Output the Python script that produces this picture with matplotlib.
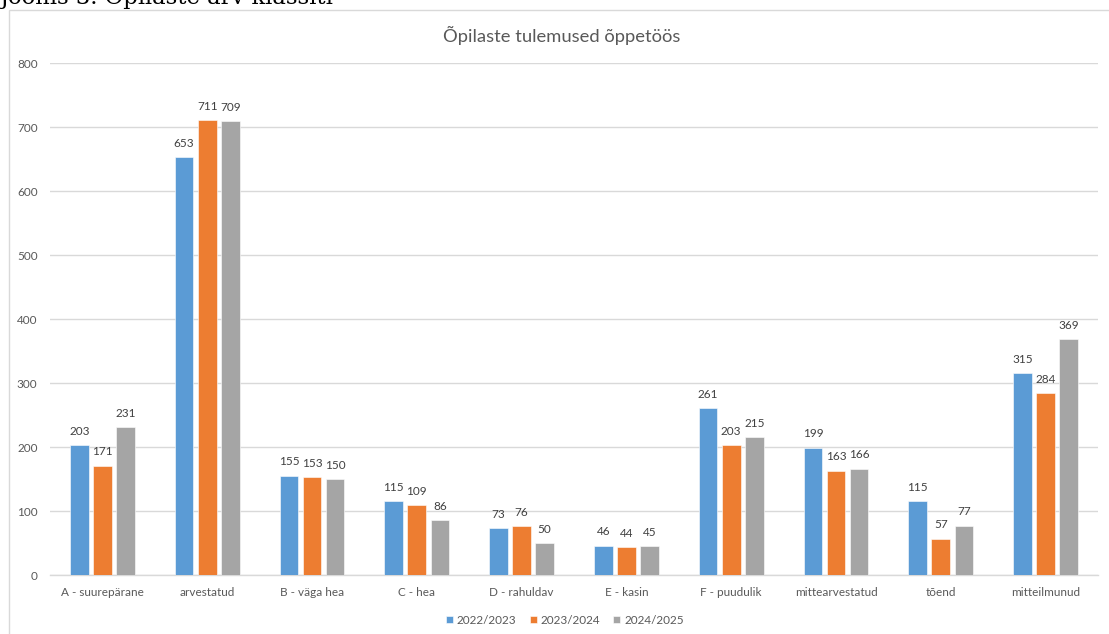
import matplotlib
matplotlib.use("Agg")
import matplotlib.pyplot as plt
from matplotlib.patches import Rectangle
import numpy as np

categories = ["A - suurepärane", "arvestatud", "B - väga hea", "C - hea", "D - rahuldav",
              "E - kasin", "F - puudulik", "mittearvestatud", "tõend", "mitteilmunud"]
series_names = ["2022/2023", "2023/2024", "2024/2025"]
v2022 = [203, 653, 155, 115, 73, 46, 261, 199, 115, 315]
v2023 = [171, 711, 153, 109, 76, 44, 203, 163, 57, 284]
v2024 = [231, 709, 150, 86, 50, 45, 215, 166, 77, 369]
yticks = [0, 100, 200, 300, 400, 500, 600, 700, 800]
title = "Õpilaste tulemused õppetöös"
heading = "Joonis 3. Õpilaste arv klassiti"

colors = ["#5B9BD5", "#ED7D31", "#A5A5A5"]
txt_color = "#595959"
grid_color = "#D9D9D9"
font = "Lato"

W, H = 1109, 634
fig = plt.figure(figsize=(W / 100, H / 100), dpi=100)
fig.patch.set_facecolor("white")

# chart frame
fig.patches.append(Rectangle((9 / W, -0.05), 1.2, (H - 10) / H + 0.05,
                             transform=fig.transFigure, fill=False,
                             edgecolor=grid_color, linewidth=1.0, zorder=0))
# cropped document heading above the chart (cut off in the reference too)
fig.text(0.0, (H - 4) / H, heading, family="DejaVu Serif", fontsize=16.3,
         color="black", va="baseline", ha="left")

ax = fig.add_axes([50 / W, 59 / H, 1048 / W, 512 / H])
x = np.arange(len(categories))
pitch = 0.22
width = 0.178
for i, (vals, name) in enumerate(zip([v2022, v2023, v2024], series_names)):
    bars = ax.bar(x + (i - 1) * pitch, vals, width=width, color=colors[i],
                  label=name, zorder=3, edgecolor="white", linewidth=0.4)
    for b, v in zip(bars, vals):
        ax.annotate(str(v), (b.get_x() + b.get_width() / 2, v), xytext=(0, 6),
                    textcoords="offset points", ha="center", va="bottom",
                    fontsize=8.5, color="#404040", family=font)

ax.set_xlim(-0.5, len(categories) - 0.5)
ax.set_ylim(0, 800)
ax.set_yticks(yticks)
ax.set_xticks(x)
ax.set_xticklabels(categories, fontsize=8.5, color=txt_color, family=font)
ax.set_yticklabels([str(t) for t in yticks], fontsize=8.5, color=txt_color, family=font)
ax.tick_params(axis="both", length=0)
ax.tick_params(axis="x", pad=9)
ax.tick_params(axis="y", pad=9)
for s in ["top", "right", "left"]:
    ax.spines[s].set_visible(False)
ax.spines["bottom"].set_color(grid_color)
ax.spines["bottom"].set_linewidth(1.0)
ax.yaxis.grid(True, color=grid_color, linewidth=1.0, zorder=0)
ax.set_axisbelow(True)

fig.text(562 / W, (H - 35) / H, title, ha="center", va="center",
         fontsize=13.2, color=txt_color, family=font)

leg = fig.legend(loc="center", bbox_to_anchor=(565 / W, (H - 620) / H), ncol=3,
                 frameon=False, handlelength=0.6, handleheight=0.6,
                 handletextpad=0.35, columnspacing=1.1,
                 prop={"family": font, "size": 8.5})
for t in leg.get_texts():
    t.set_color(txt_color)

fig.savefig("out.png", dpi=100)
